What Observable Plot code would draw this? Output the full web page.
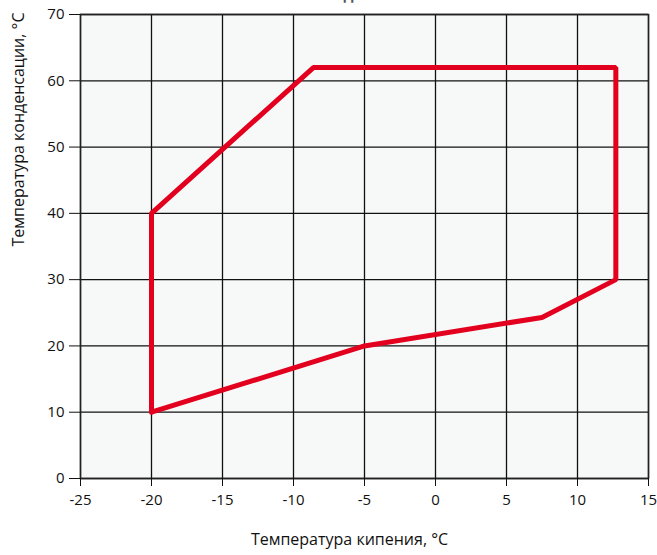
<!DOCTYPE html>
<html>
<head>
<meta charset="utf-8">
<script src="https://cdn.jsdelivr.net/npm/d3@7"></script>
<script src="https://cdn.jsdelivr.net/npm/@observablehq/plot@0.6"></script>
<style>
  html, body { margin: 0; padding: 0; background: #fff; }
  #chart svg { display: block; overflow: visible; }
</style>
</head>
<body>
<div id="chart"></div>
<script>
const chartTitle = "Рабочий диапазон";
const xLabel = "Температура кипения, °С";
const yLabel = "Температура конденсации, °С";

const boilTemps = [-20, -20, -8.6, 12.7, 12.7, 7.5, -5, -20];
const condTemps = [10, 40, 62, 62, 30, 24.3, 20, 10];

const xTicks = [-25, -20, -15, -10, -5, 0, 5, 10, 15];
const yTicks = [0, 10, 20, 30, 40, 50, 60, 70];

const envelope = boilTemps.map((x, i) => ({x, y: condTemps[i]}));

const font = "'Open Sans', 'DejaVu Sans', sans-serif";

const chart = Plot.plot({
  width: 657,
  height: 555,
  marginLeft: 80,
  marginRight: 9,
  marginTop: 14,
  marginBottom: 77,
  style: {fontFamily: font, fontSize: "15px", color: "#111", background: "#fff", overflow: "visible"},
  x: {domain: [-25, 15], label: null},
  y: {domain: [0, 70], label: null},
  marks: [
    Plot.frame({fill: "#f7f9f9", stroke: "none"}),
    Plot.gridX(xTicks, {stroke: "#111", strokeOpacity: 1, strokeWidth: 1.3}),
    Plot.gridY(yTicks, {stroke: "#111", strokeOpacity: 1, strokeWidth: 1.3}),
    Plot.frame({stroke: "#222", strokeWidth: 1.5}),
    Plot.axisX(xTicks, {tickSize: 8, tickPadding: 8, stroke: "#111", fontSize: 15, tickFormat: d => String(d), label: null}),
    Plot.axisY(yTicks, {tickSize: 11, tickPadding: 5, stroke: "#111", fontSize: 15, tickFormat: d => String(d), label: null}),
    Plot.line(envelope, {x: "x", y: "y", stroke: "#e3001f", strokeWidth: 5, strokeLinejoin: "miter"}),
    Plot.text([xLabel], {frameAnchor: "bottom", dy: 66, dx: -15, text: d => d, fontSize: 16, fill: "#111"}),
    Plot.text([yLabel], {frameAnchor: "left", dx: -62, rotate: -90, text: d => d, fontSize: 16, fill: "#111"}),
    Plot.text([chartTitle], {frameAnchor: "top", lineAnchor: "bottom", dy: -15, dx: -19, text: d => d, fontSize: 15, fontWeight: "bold", fill: "#555"})
  ]
});
document.getElementById("chart").append(chart);
</script>
</body>
</html>
